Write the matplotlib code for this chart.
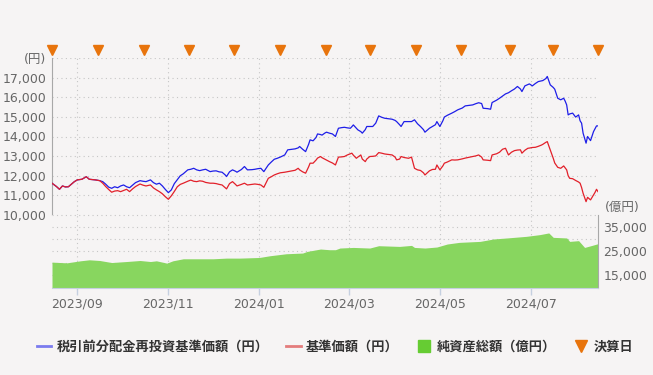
import numpy as np
import pandas as pd
import matplotlib
matplotlib.use("Agg")
import matplotlib.pyplot as plt
import matplotlib.dates as mdates
import matplotlib.transforms as mtransforms
from matplotlib.lines import Line2D

plt.rcParams['font.family'] = ['DejaVu Sans', 'Noto Sans CJK JP']

# days since 2023-08-15
start = pd.Timestamp("2023-08-15")
day = [
    0, 3, 5, 7, 9, 11, 13, 15, 17, 20,
    23, 25, 29, 32, 34, 36, 38, 40, 42, 44,
    46, 48, 50, 52, 54, 56, 59, 61, 63, 66,
    68, 70, 72, 74, 76, 78, 80, 82, 84, 86,
    88, 91, 93, 95, 97, 99, 101, 103, 106, 108,
    110, 112, 114, 116, 117, 119, 121, 123, 124, 127,
    129, 131, 134, 136, 138, 140, 142, 145, 147, 149,
    151, 153, 156, 158, 160, 163, 165, 166, 168, 170,
    172, 173, 175, 177, 178, 180, 181, 183, 184, 186,
    188, 190, 192, 194, 196, 198, 200, 201, 202, 204,
    205, 207, 208, 210, 211, 213, 215, 217, 219, 221,
    223, 225, 228, 230, 231, 233, 234, 236, 239, 241,
    243, 245, 247, 249, 250, 253, 255, 257, 258, 260,
    262, 263, 265, 268, 270, 272, 275, 277, 280, 282,
    284, 286, 288, 289, 292, 294, 295, 298, 300, 302,
    304, 306, 308, 310, 312, 314, 315, 317, 319, 320,
    322, 324, 326, 328, 329, 331, 332, 334, 336, 337,
    339, 341, 343, 344, 345, 346, 347, 349, 351, 353,
    354, 355, 356, 358, 359, 361, 363, 364, 365, 366]

# 税引前分配金再投資基準価額（円）
reinvest = [
    11620, 11450, 11310, 11480, 11430, 11440, 11570, 11700, 11790, 11820,
    11950, 11820, 11790, 11750, 11700, 11570, 11420, 11360, 11440, 11390,
    11480, 11530, 11440, 11390, 11520, 11650, 11750, 11720, 11700, 11790,
    11650, 11570, 11620, 11480, 11300, 11140, 11280, 11600, 11800, 12000,
    12100, 12300, 12330, 12380, 12300, 12260, 12300, 12330, 12210, 12240,
    12250, 12200, 12180, 12050, 11960, 12200, 12300, 12230, 12180, 12320,
    12470, 12300, 12310, 12330, 12360, 12380, 12210, 12550, 12700, 12840,
    12890, 12950, 13060, 13320, 13340, 13370, 13420, 13490, 13350, 13230,
    13600, 13830, 13780, 13950, 14130, 14100, 14070, 14180, 14220, 14170,
    14130, 14000, 14420, 14450, 14470, 14440, 14420, 14500, 14590, 14420,
    14340, 14250, 14170, 14350, 14510, 14510, 14510, 14680, 15050, 14980,
    14930, 14910, 14880, 14820, 14760, 14600, 14510, 14760, 14760, 14760,
    14850, 14650, 14510, 14350, 14220, 14420, 14510, 14600, 14760, 14510,
    14800, 14990, 15080, 15190, 15270, 15360, 15450, 15560, 15590, 15610,
    15670, 15720, 15680, 15440, 15420, 15390, 15730, 15850, 15950, 16060,
    16170, 16230, 16330, 16420, 16550, 16420, 16290, 16580, 16650, 16680,
    16580, 16700, 16800, 16830, 16850, 16950, 17060, 16630, 16500, 16410,
    15950, 15870, 15950, 15800, 15610, 15100, 15150, 15190, 14990, 15100,
    14800, 14680, 14170, 13660, 14000, 13790, 14250, 14400, 14540, 14540]

# 基準価額（円）
nav = [
    11620, 11450, 11310, 11480, 11430, 11440, 11570, 11700, 11790, 11820,
    11950, 11820, 11790, 11750, 11620, 11450, 11300, 11160, 11220, 11240,
    11190, 11250, 11310, 11190, 11330, 11450, 11580, 11520, 11480, 11530,
    11380, 11280, 11190, 11080, 10930, 10800, 10980, 11200, 11440, 11560,
    11620, 11720, 11780, 11720, 11700, 11740, 11720, 11660, 11620, 11620,
    11600, 11560, 11530, 11400, 11330, 11600, 11700, 11560, 11480, 11560,
    11620, 11530, 11560, 11580, 11560, 11530, 11410, 11870, 11950, 12040,
    12100, 12150, 12180, 12210, 12240, 12280, 12380, 12300, 12200, 12130,
    12450, 12640, 12640, 12800, 12900, 12980, 12920, 12840, 12800, 12720,
    12650, 12550, 12950, 12960, 12980, 13060, 13120, 13150, 13050, 12890,
    12950, 13060, 12850, 12720, 12850, 12980, 12990, 13010, 13180, 13150,
    13110, 13090, 13060, 12950, 12810, 12850, 12980, 12930, 12890, 12950,
    12380, 12300, 12270, 12150, 12040, 12250, 12320, 12330, 12550, 12300,
    12500, 12640, 12700, 12810, 12800, 12810, 12860, 12900, 12950, 12980,
    13010, 13060, 12950, 12810, 12790, 12770, 13060, 13120, 13200, 13350,
    13400, 13060, 13200, 13280, 13310, 13320, 13150, 13300, 13400, 13410,
    13440, 13450, 13500, 13560, 13600, 13700, 13740, 13320, 12890, 12650,
    12430, 12380, 12500, 12400, 12300, 12000, 11870, 11850, 11760, 11680,
    11620, 11400, 11110, 10680, 10900, 10770, 11020, 11150, 11310, 11190]

# 純資産総額（億円）
na_day = [0, 10, 19, 25, 32, 40, 50, 59, 66, 70,
          77, 81, 88, 97, 108, 117, 126, 139, 146, 157,
          168, 171, 180, 186, 190, 193, 202, 213, 219, 233,
          241, 243, 250, 258, 265, 273, 287, 296, 305, 318,
          327, 333, 336, 345, 347, 353, 357, 362, 366]
net_assets = [20500, 20200, 21040, 21460, 21170, 20330, 20750, 21170, 20750, 21040,
              20080, 21040, 21880, 21880, 21880, 22160, 22160, 22420, 23130, 23960,
              24250, 24920, 25920, 25630, 25630, 26330, 26580, 26330, 27290, 27000,
              27420, 26580, 26330, 26750, 28000, 28670, 29080, 30080, 30500, 31170,
              31880, 32580, 30750, 30500, 29080, 29380, 26580, 27420, 28130]

# 決算日
settle = ["2023-08-15", "2023-09-15", "2023-10-16", "2023-11-15", "2023-12-15",
          "2024-01-15", "2024-02-15", "2024-03-15", "2024-04-15", "2024-05-15",
          "2024-06-17", "2024-07-16", "2024-08-15"]

labels = ["税引前分配金再投資基準価額（円）", "基準価額（円）", "純資産総額（億円）", "決算日"]

dates = start + pd.to_timedelta(day, unit="D")
na_dates = start + pd.to_timedelta(na_day, unit="D")
settle_dates = pd.to_datetime(settle)

BG = "#f6f4f4"
GRID = "#c6c6c6"
TXT = "#666666"
FS = 9
W, H = 653, 375

fig = plt.figure(figsize=(W / 100, H / 100), dpi=100, facecolor=BG)
ax = fig.add_axes([52 / W, 160 / H, 546 / W, 157 / H], facecolor=BG)
ax2 = fig.add_axes([52 / W, 87.5 / H, 546 / W, 72.5 / H], facecolor=BG, sharex=ax)

# upper panel: prices
ax.plot(dates, reinvest, color="#1e1ee8", lw=0.9, zorder=3)
ax.plot(dates, nav, color="#e2202a", lw=0.9, zorder=3)
ax.set_ylim(10000, 18000)
yt = list(range(10000, 18001, 1000))
ax.set_yticks(yt)
ax.set_yticklabels([f"{v:,}" if v < 18000 else "(円)" for v in yt])
ax.tick_params(axis="y", length=0, pad=4, labelsize=FS, labelcolor=TXT)
ax.tick_params(axis="x", length=0, labelbottom=False)
for s in ["top", "right", "bottom"]:
    ax.spines[s].set_visible(False)
ax.spines["left"].set_color("#a8a8a8")
ax.grid(True, color=GRID, linestyle=(0, (1, 3)), lw=0.8)
ax.set_axisbelow(True)

# settlement markers above the plot
trans = mtransforms.blended_transform_factory(ax.transData, fig.transFigure)
ax.plot(settle_dates, [1 - 50 / H] * len(settle_dates), "v", color="#e8740c",
        ms=7.5, transform=trans, clip_on=False, zorder=5)

# lower panel: net assets
ax2.fill_between(na_dates, net_assets, 10000, color="#88d65f", lw=0, zorder=2)
ax2.set_ylim(10000, 40000)
yt2 = list(range(10000, 40001, 5000))
ax2.set_yticks(yt2)
ax2.set_yticklabels([f"{v:,}" if v in (15000, 25000, 35000) else "" for v in yt2])
ax2.yaxis.tick_right()
ax2.tick_params(axis="y", length=0, pad=4, labelsize=FS, labelcolor=TXT)
ax2.tick_params(axis="x", length=5, width=1, color="#c5d0e0", pad=2,
                labelsize=FS, labelcolor=TXT)
for s in ["top", "left"]:
    ax2.spines[s].set_visible(False)
ax2.spines["right"].set_color("#a8a8a8")
ax2.spines["bottom"].set_color("#c5d0e0")
ax2.grid(True, color=GRID, linestyle=(0, (1, 3)), lw=0.8)
ax2.set_axisbelow(True)
ax2.xaxis.set_major_locator(mdates.MonthLocator(bymonth=[1, 3, 5, 7, 9, 11]))
ax2.xaxis.set_major_formatter(mdates.DateFormatter("%Y/%m"))
ax2.set_xlim(start, start + pd.Timedelta(days=366))

fig.text(605 / W, 1 - 207 / H, "(億円)", ha="left", va="center", color=TXT, fontsize=FS)

handles = [Line2D([], [], color="#7b7bee", lw=2),
           Line2D([], [], color="#e47c7c", lw=2),
           Line2D([], [], marker="s", ls="none", color="#66cc33", ms=9),
           Line2D([], [], marker="v", ls="none", color="#e8740c", ms=8)]
fig.legend(handles, labels, loc="center", bbox_to_anchor=(0.513, 1 - 347 / H), ncol=4,
           frameon=False, prop=dict(family=["Noto Sans CJK JP"], weight="bold", size=9.5),
           labelcolor="#333333", handlelength=1.1, handletextpad=0.4, columnspacing=1.35)

fig.savefig("out.png", dpi=100, facecolor=BG)
